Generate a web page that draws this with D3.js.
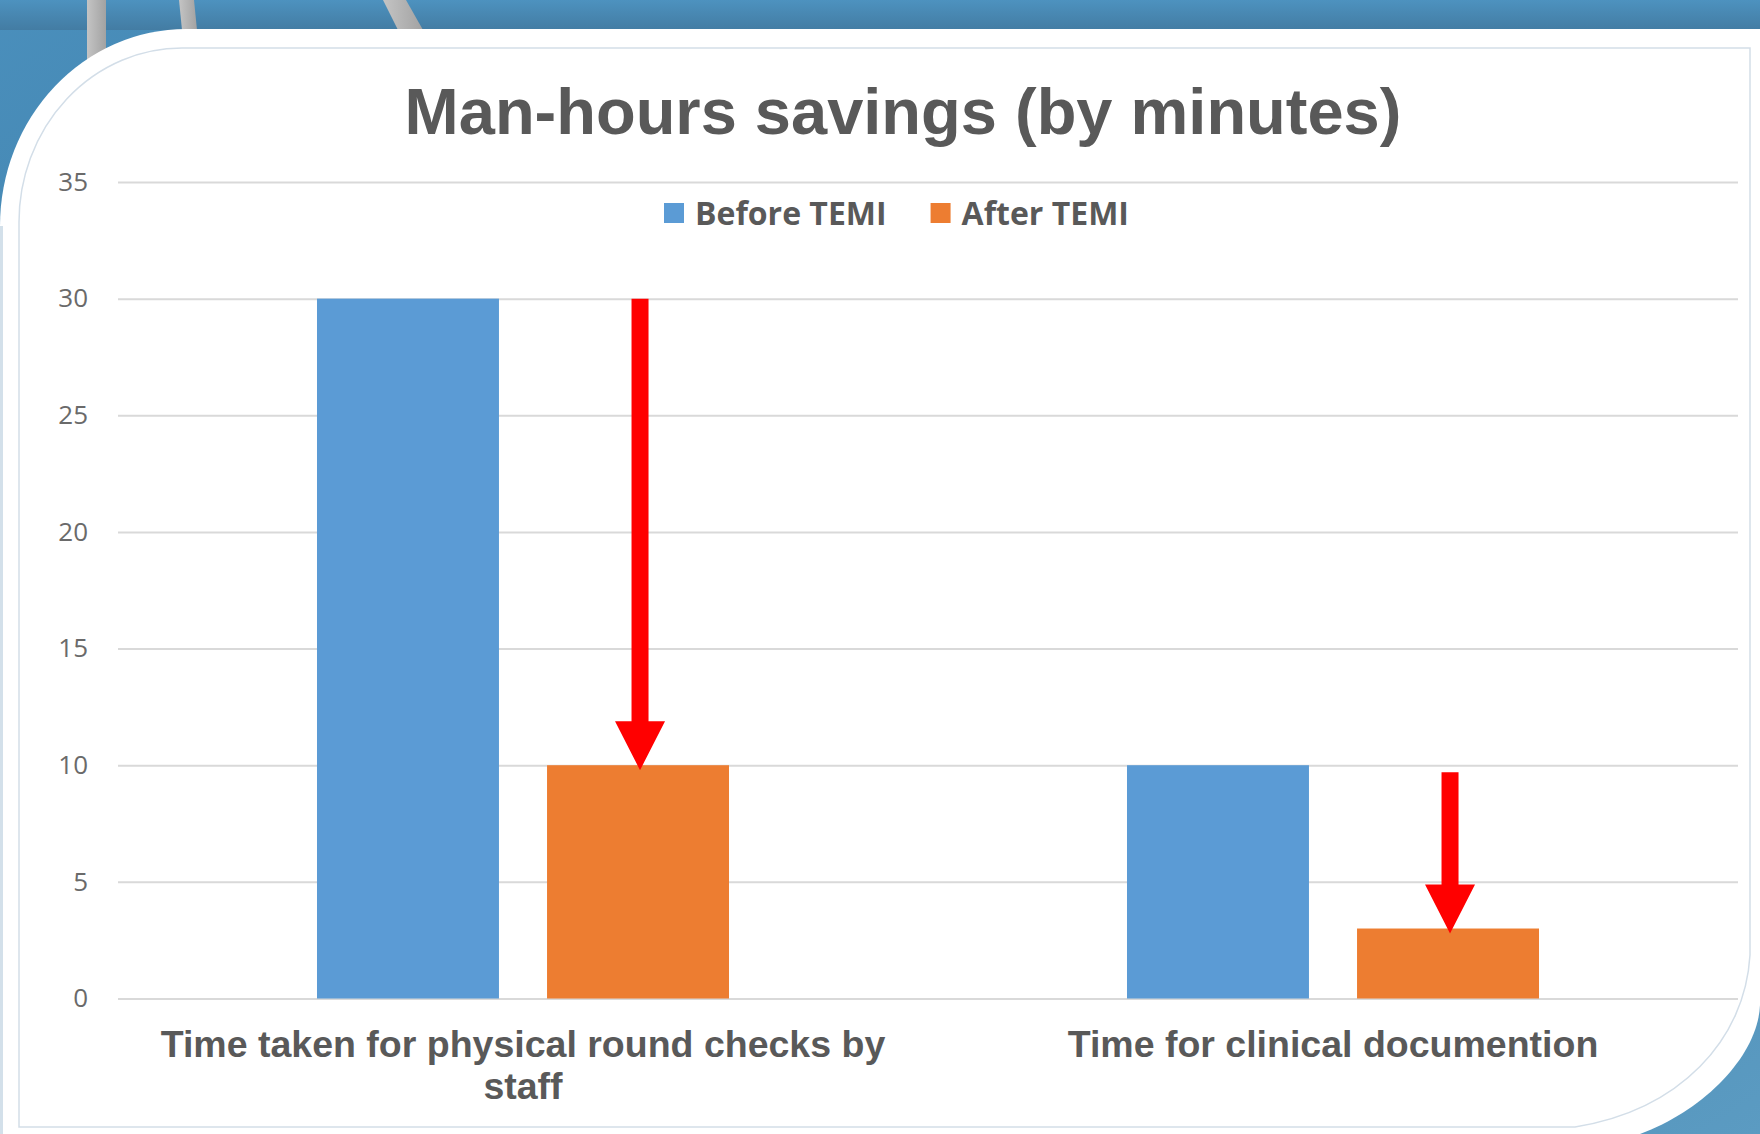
<!DOCTYPE html>
<html>
<head>
<meta charset="utf-8">
<script src="https://cdn.jsdelivr.net/npm/d3@7"></script>
<style>
  body { margin: 0; overflow: hidden; background: #fff; }
</style>
</head>
<body>
<div id="chart"></div>
<script>
// chart values
var categories = ["Time taken for physical round checks by staff", "Time for clinical documention"];
var seriesNames = ["Before TEMI", "After TEMI"];
var beforeTemi = [30, 10];
var afterTemi = [10, 3];
var yTicks = [0, 5, 10, 15, 20, 25, 30, 35];
// red arrows over the "After TEMI" bars (start value -> end value)
var arrowFrom = [30, 9.7];
var arrowTo = [10, 3];

var colors = {"Before TEMI": "#5b9bd5", "After TEMI": "#ed7d31"};

var W = 1760, H = 1134;

var svg = d3.select("#chart")
  .append("svg")
  .attr("width", W)
  .attr("height", H);

// ---- slide background ----
var defs = svg.append("defs");
var bg = defs.append("linearGradient").attr("id", "bg")
  .attr("x1", 0).attr("y1", 0).attr("x2", 1).attr("y2", 1);
bg.append("stop").attr("offset", "0%").attr("stop-color", "#4a8fbc");
bg.append("stop").attr("offset", "45%").attr("stop-color", "#3a78a0");
bg.append("stop").attr("offset", "100%").attr("stop-color", "#5b9bc2");

var band = defs.append("linearGradient").attr("id", "band")
  .attr("x1", 0).attr("y1", 0).attr("x2", 0).attr("y2", 1);
band.append("stop").attr("offset", "0%").attr("stop-color", "#4d92bf");
band.append("stop").attr("offset", "100%").attr("stop-color", "#437ca3");

var stripe = defs.append("linearGradient").attr("id", "stripe")
  .attr("x1", 0).attr("y1", 0).attr("x2", 1).attr("y2", 0);
stripe.append("stop").attr("offset", "0%").attr("stop-color", "#c4c4c4");
stripe.append("stop").attr("offset", "100%").attr("stop-color", "#a2a2a2");

svg.append("rect").attr("width", W).attr("height", H).attr("fill", "url(#bg)");
svg.append("rect").attr("width", W).attr("height", 30).attr("fill", "url(#band)");

// grey bars of the slide theme
svg.append("rect").attr("x", 87).attr("y", 0).attr("width", 19).attr("height", 90).attr("fill", "url(#stripe)");
svg.append("path").attr("d", "M179,0 L194,0 L197,30 L182,30 Z").attr("fill", "url(#stripe)");
svg.append("path").attr("d", "M383,0 L406,0 L423,30 L398,30 Z").attr("fill", "url(#stripe)");

// white card
svg.append("path")
  .attr("d", "M0,226 A186,197 0 0 1 186,29 L1760,29 L1760,1005 C1758,1055 1705,1110 1640,1134 L0,1134 Z")
  .attr("fill", "#ffffff");
svg.append("rect").attr("x", 0).attr("y", 226).attr("width", 3).attr("height", H - 226).attr("fill", "#d3e0ea");

// thin inner frame
svg.append("path")
  .attr("d", "M19,1127 L19,222 A163,174 0 0 1 182,48 L1750,48 L1750,955 C1745,1040 1680,1110 1575,1127 Z")
  .attr("fill", "none")
  .attr("stroke", "#d3dee8")
  .attr("stroke-width", 1.5);

// ---- chart ----
var x0 = d3.scaleBand()
  .domain(categories)
  .range([118, 1738]);

var x1 = d3.scaleBand()
  .domain(seriesNames)
  .range([0, x0.bandwidth()])
  .paddingInner(0.209)
  .paddingOuter(0.865);

var y = d3.scaleLinear()
  .domain([0, 35])
  .range([998.5, 182]);

// gridlines + y labels
var yAxis = svg.append("g")
  .attr("transform", "translate(118,0)")
  .call(d3.axisLeft(y)
    .tickValues(yTicks)
    .tickSize(-(1738 - 118))
    .tickPadding(30)
    .tickFormat(d3.format("d")));

yAxis.select(".domain").remove();
yAxis.selectAll("line")
  .attr("stroke", "#d9d9d9")
  .attr("stroke-width", 2);
yAxis.selectAll("text")
  .attr("font-family", "'Open Sans', sans-serif")
  .attr("font-size", 26)
  .attr("fill", "#6a6a6a");

// bars
var data = categories.map(function(c, i) {
  return {cat: c, values: [
    {key: "Before TEMI", value: beforeTemi[i]},
    {key: "After TEMI", value: afterTemi[i]}
  ]};
});

var groups = svg.selectAll("g.cat")
  .data(data)
  .enter()
  .append("g")
  .attr("class", "cat")
  .attr("transform", d => "translate(" + x0(d.cat) + ",0)");

groups.selectAll("rect")
  .data(d => d.values)
  .enter()
  .append("rect")
  .attr("x", d => x1(d.key))
  .attr("y", d => y(d.value))
  .attr("width", x1.bandwidth())
  .attr("height", d => y(0) - y(d.value))
  .attr("fill", d => colors[d.key]);

// red arrows
var shaft = 8.5, head = 25, headLen = 49;
categories.forEach(function(c, i) {
  var cx = x0(c) + x1("After TEMI") + x1.bandwidth() / 2 + 2;
  var top = y(arrowFrom[i]);
  var tip = y(arrowTo[i]) + 5;
  var base = tip - headLen;
  var p = d3.path();
  p.moveTo(cx - shaft, top);
  p.lineTo(cx + shaft, top);
  p.lineTo(cx + shaft, base);
  p.lineTo(cx + head, base);
  p.lineTo(cx, tip);
  p.lineTo(cx - head, base);
  p.lineTo(cx - shaft, base);
  p.closePath();
  svg.append("path").attr("d", p.toString()).attr("fill", "#ff0000");
});

// category labels
var catLabels = svg.append("g");
categories.forEach(function(c) {
  var t = catLabels.append("text")
    .attr("x", x0(c) + x0.bandwidth() / 2)
    .attr("y", 1057)
    .attr("text-anchor", "middle")
    .attr("font-family", "'Liberation Sans', Arial, sans-serif")
    .attr("font-weight", "bold")
    .attr("font-size", 37.5)
    .attr("fill", "#595959");
  wrap(t, c, 790, 42);
});

function wrap(textSel, str, maxW, lineH) {
  var words = str.split(" ");
  var line = [];
  var x = textSel.attr("x");
  var tspan = textSel.append("tspan").attr("x", x).attr("dy", 0);
  words.forEach(function(w) {
    line.push(w);
    tspan.text(line.join(" "));
    if (tspan.node().getComputedTextLength() > maxW && line.length > 1) {
      line.pop();
      tspan.text(line.join(" "));
      line = [w];
      tspan = textSel.append("tspan").attr("x", x).attr("dy", lineH).text(w);
    }
  });
}

// title
svg.append("text")
  .attr("x", 903)
  .attr("y", 134)
  .attr("text-anchor", "middle")
  .attr("font-family", "'Liberation Sans', Arial, sans-serif")
  .attr("font-weight", "bold")
  .attr("font-size", 65)
  .attr("fill", "#595959")
  .text("Man-hours savings (by minutes)");

// legend
var legend = svg.append("g").attr("transform", "translate(664,0)");
var lx = 0;
seriesNames.forEach(function(s) {
  legend.append("rect")
    .attr("x", lx)
    .attr("y", 203)
    .attr("width", 20)
    .attr("height", 20)
    .attr("fill", colors[s]);
  var t = legend.append("text")
    .attr("x", lx + 31)
    .attr("y", 225)
    .attr("font-family", "'Open Sans', sans-serif")
    .attr("font-weight", "bold")
    .attr("font-size", 32)
    .attr("fill", "#595959")
    .text(s);
  lx += 31 + t.node().getComputedTextLength() + 44;
});
</script>
</body>
</html>
